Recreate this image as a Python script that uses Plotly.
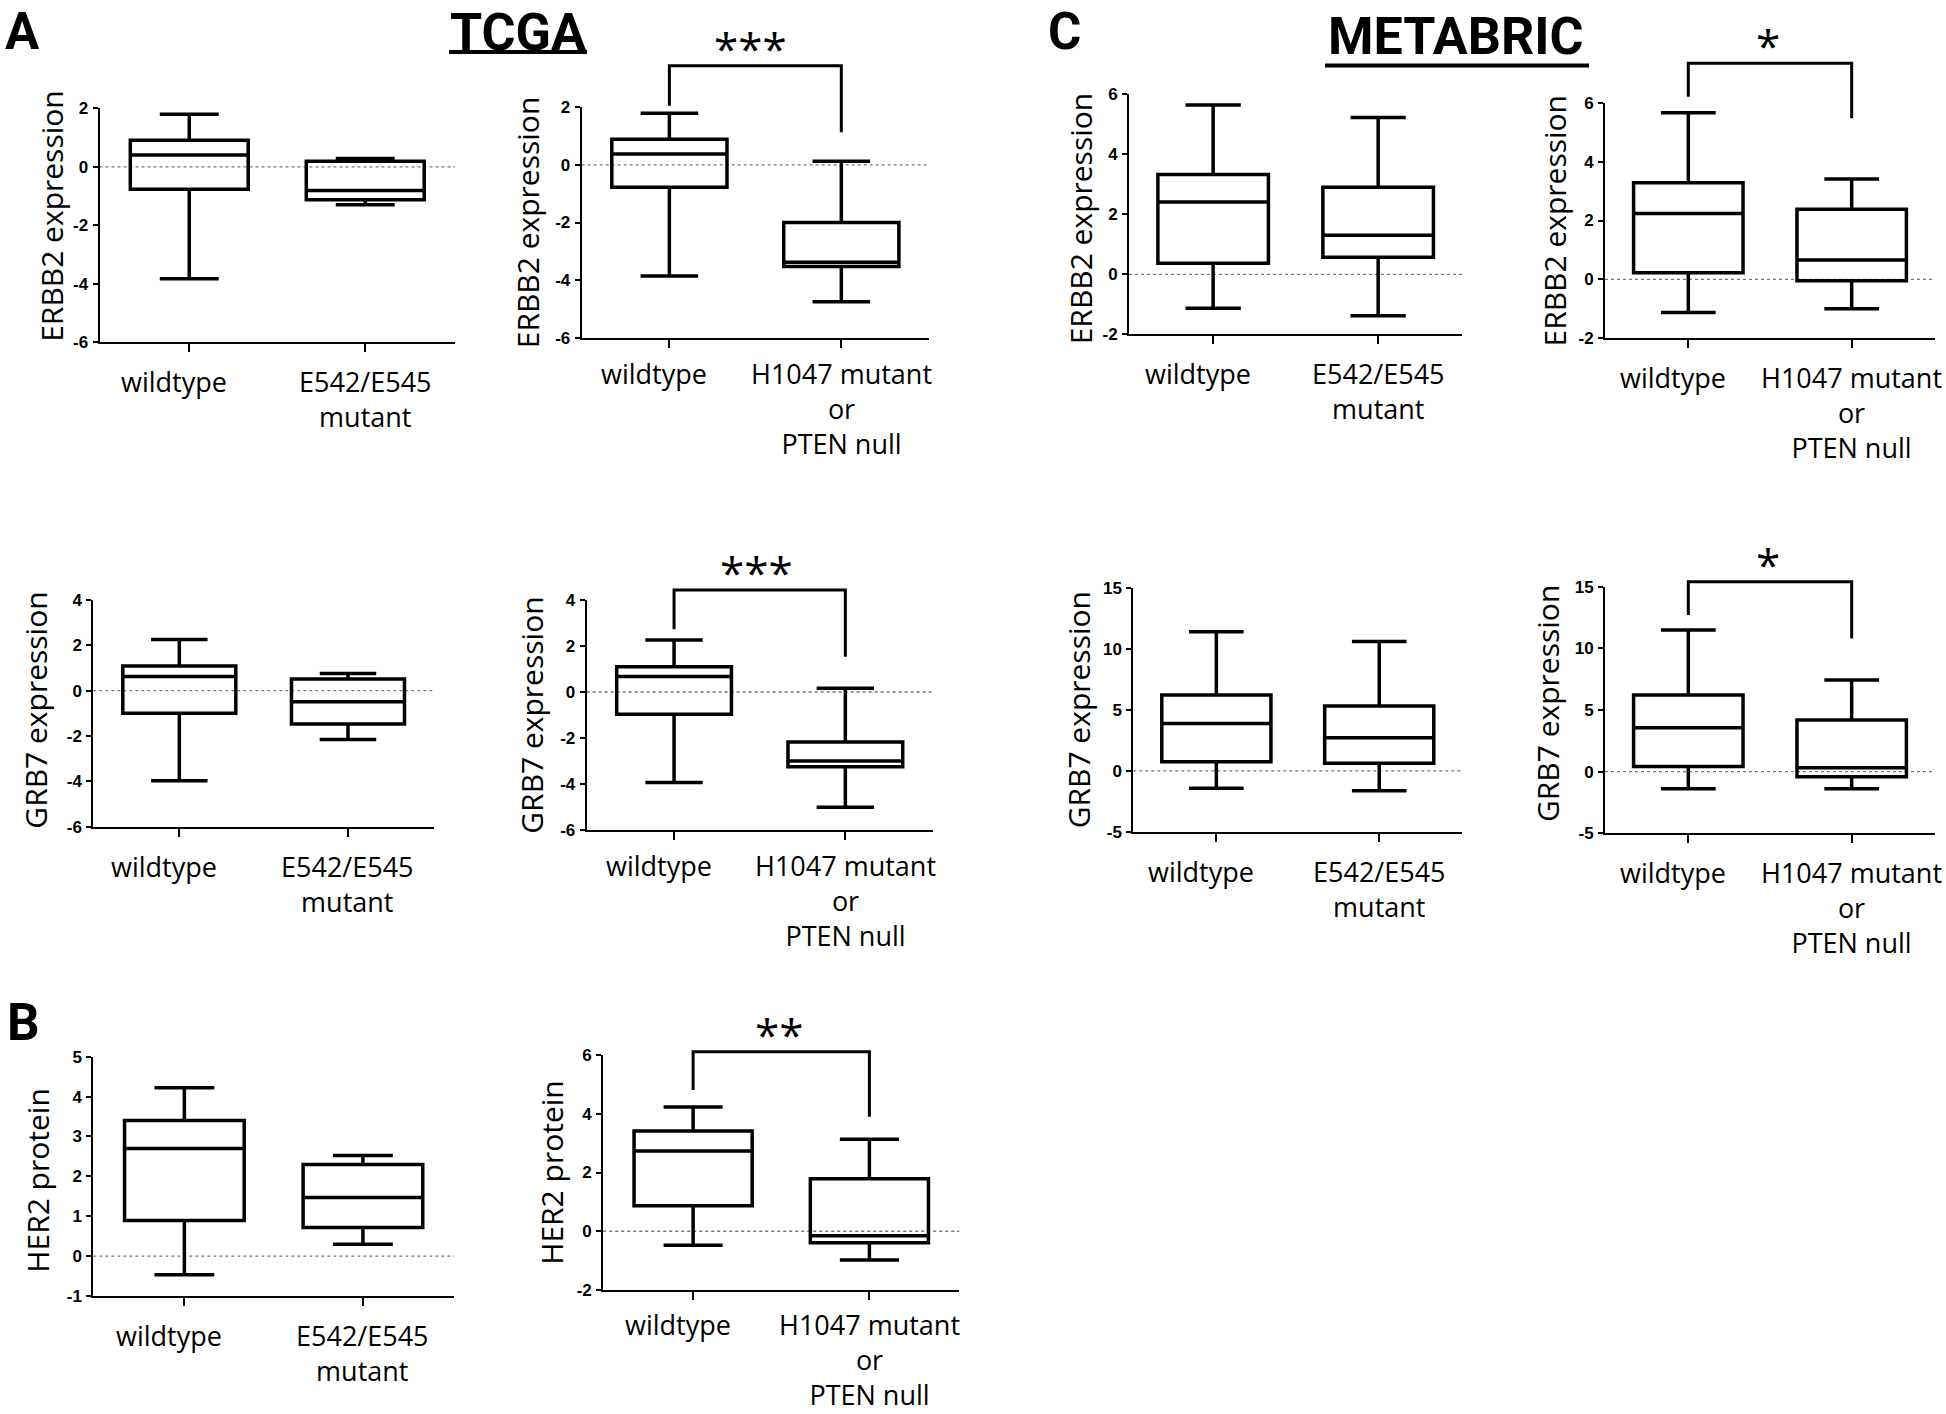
import plotly.graph_objects as go

W, H = 1946, 1414

# ---------------- data ----------------
CAT_E = ["wildtype", "E542/E545<br>mutant"]
CAT_H = ["wildtype", "H1047 mutant<br>or<br>PTEN null"]

# box statistics: [min, q1, median, q3, max]
A1_wt = [-3.83, -0.77, 0.40, 0.91, 1.80]
A1_mut = [-1.30, -1.13, -0.81, 0.19, 0.28]
A2_wt = [-3.86, -0.78, 0.38, 0.89, 1.79]
A2_mut = [-4.75, -3.53, -3.38, -2.00, 0.13]
A3_wt = [-3.97, -1.00, 0.62, 1.09, 2.26]
A3_mut = [-2.15, -1.47, -0.49, 0.51, 0.76]
A4_wt = [-3.94, -0.97, 0.67, 1.10, 2.26]
A4_mut = [-5.01, -3.25, -3.00, -2.17, 0.16]
B1_wt = [-0.47, 0.89, 2.70, 3.40, 4.22]
B1_mut = [0.30, 0.72, 1.47, 2.30, 2.52]
B2_wt = [-0.48, 0.87, 2.73, 3.41, 4.23]
B2_mut = [-0.98, -0.39, -0.15, 1.79, 3.13]
C1_wt = [-1.13, 0.37, 2.41, 3.33, 5.64]
C1_mut = [-1.38, 0.57, 1.30, 2.90, 5.23]
C2_wt = [-1.12, 0.23, 2.24, 3.28, 5.66]
C2_mut = [-1.00, -0.05, 0.66, 2.38, 3.41]
C3_wt = [-1.44, 0.75, 3.90, 6.23, 11.44]
C3_mut = [-1.63, 0.62, 2.73, 5.33, 10.62]
C4_wt = [-1.38, 0.41, 3.57, 6.22, 11.49]
C4_mut = [-1.38, -0.41, 0.32, 4.19, 7.43]

TICKS_A12 = [-6, -4, -2, 0, 2]
TICKS_A34 = [-6, -4, -2, 0, 2, 4]
TICKS_B1 = [-1, 0, 1, 2, 3, 4, 5]
TICKS_B2 = [-2, 0, 2, 4, 6]
TICKS_C12 = [-2, 0, 2, 4, 6]
TICKS_C34 = [-5, 0, 5, 10, 15]

# significance brackets: [left foot, top, right foot] (y values)
A2_sig = [2.05, 3.44, 1.13]
A4_sig = [2.73, 4.43, 1.53]
B2_sig = [4.81, 6.11, 3.90]
C2_sig = [6.20, 7.34, 5.47]
C4_sig = [12.70, 15.40, 10.80]

# ---------------- layout config ----------------
# box = (x_left_px, x_right_px, y_top_px, y_bottom_px)
panels = [
    dict(wt=A1_wt, mut=A1_mut, cats=CAT_E, yt="ERBB2 expression", ticks=TICKS_A12,
         box=(99.5, 455, 108.3, 342.3), toff=48, tdy=9, sig=None, star=None, ldy=0, sdx=0),
    dict(wt=A2_wt, mut=A2_mut, cats=CAT_H, yt="ERBB2 expression", ticks=TICKS_A12,
         box=(581.7, 929, 107.3, 337.7), toff=54, tdy=0, sig=A2_sig, star="***", ldy=4, sdx=-5),
    dict(wt=A3_wt, mut=A3_mut, cats=CAT_E, yt="GRB7 expression", ticks=TICKS_A34,
         box=(93.3, 434, 600, 826.7), toff=58, tdy=3, sig=None, star=None, ldy=0, sdx=0),
    dict(wt=A4_wt, mut=A4_mut, cats=CAT_H, yt="GRB7 expression", ticks=TICKS_A34,
         box=(586.7, 932.7, 600, 830), toff=56, tdy=0, sig=A4_sig, star="***", ldy=4, sdx=-3),
    dict(wt=B1_wt, mut=B1_mut, cats=CAT_E, yt="HER2 protein", ticks=TICKS_B1,
         box=(93.3, 454, 1056.7, 1296), toff=56, tdy=-4, sig=None, star=None, ldy=0, sdx=0),
    dict(wt=B2_wt, mut=B2_mut, cats=CAT_H, yt="HER2 protein", ticks=TICKS_B2,
         box=(603.2, 959.3, 1055, 1290), toff=52, tdy=0, sig=B2_sig, star="**", ldy=5, sdx=-2),
    dict(wt=C1_wt, mut=C1_mut, cats=CAT_E, yt="ERBB2 expression", ticks=TICKS_C12,
         box=(1129, 1462.3, 94.3, 334.3), toff=49, tdy=-4, sig=None, star=None, ldy=0, sdx=0),
    dict(wt=C2_wt, mut=C2_mut, cats=CAT_H, yt="ERBB2 expression", ticks=TICKS_C12,
         box=(1605, 1935, 102.7, 338.3), toff=51, tdy=0, sig=C2_sig, star="*", ldy=0, sdx=-2),
    dict(wt=C3_wt, mut=C3_mut, cats=CAT_E, yt="GRB7 expression", ticks=TICKS_C34,
         box=(1133.3, 1462.3, 588.3, 831.7), toff=55, tdy=0, sig=None, star=None, ldy=0, sdx=0),
    dict(wt=C4_wt, mut=C4_mut, cats=CAT_H, yt="GRB7 expression", ticks=TICKS_C34,
         box=(1605, 1935, 586.7, 833.3), toff=57, tdy=6, sig=C4_sig, star="*", ldy=0, sdx=-2),
]

XR = [-0.51, 1.51]
TICK_FONT = dict(family="Liberation Sans, Arial", size=17, color="black", weight="bold")
CAT_FONT = dict(family="Open Sans", size=27, color="black")
TITLE_FONT = dict(family="Open Sans", size=30, color="black")
CAT_XSHIFT = [-15, 0]

fig = go.Figure()
layout = dict(width=W, height=H, margin=dict(l=0, r=0, t=0, b=0), template="none",
              paper_bgcolor="white", plot_bgcolor="white", showlegend=False)
shapes, annots = [], []


def px2paper_x(px):
    return px / W


def px2paper_y(py):
    return 1 - py / H


for i, p in enumerate(panels):
    n = "" if i == 0 else str(i + 1)
    x0, x1, yt, yb = p["box"]
    ymin, ymax = p["ticks"][0], p["ticks"][-1]
    dx = [px2paper_x(x0), px2paper_x(x1)]
    dy = [px2paper_y(yb), px2paper_y(yt)]
    layout["xaxis" + n] = dict(
        domain=dx, anchor="y" + n, range=XR, tickmode="array", tickvals=[0, 1],
        showticklabels=False, showline=True, linecolor="black", linewidth=2,
        ticks="outside", ticklen=8, tickwidth=2, tickcolor="black",
        showgrid=False, zeroline=False)
    layout["yaxis" + n] = dict(
        domain=dy, anchor="x" + n, range=[ymin, ymax], tickmode="array",
        tickvals=p["ticks"], ticktext=[str(t) for t in p["ticks"]],
        showline=True, linecolor="black", linewidth=2, ticks="outside", ticklen=5,
        tickwidth=2, tickcolor="black", showgrid=False, zeroline=False,
        tickfont=TICK_FONT, ticklabelstandoff=1)
    stats = [p["wt"], p["mut"]]
    fig.add_trace(go.Box(
        x=[0, 1],
        lowerfence=[s[0] for s in stats], q1=[s[1] for s in stats],
        median=[s[2] for s in stats], q3=[s[3] for s in stats],
        upperfence=[s[4] for s in stats],
        width=0.67, whiskerwidth=0.5, boxpoints=False,
        fillcolor="rgba(0,0,0,0)", line=dict(color="black", width=3.5),
        xaxis="x" + n, yaxis="y" + n, hoverinfo="skip", showlegend=False))
    # dotted zero line
    shapes.append(dict(type="line", xref="x" + n + " domain", yref="y" + n,
                       x0=0, x1=1, y0=0, y1=0, layer="below",
                       line=dict(color="#777", width=1.3, dash="dot")))
    # category labels under the ticks
    for k, lab in enumerate(p["cats"]):
        annots.append(dict(text=lab, xref="x" + n, yref="y" + n + " domain",
                           x=k, y=0, xanchor="center", yanchor="top",
                           xshift=CAT_XSHIFT[k], yshift=-19 + p["ldy"],
                           showarrow=False, font=CAT_FONT))
    # y-axis title
    annots.append(dict(text=p["yt"], xref="x" + n + " domain", yref="y" + n + " domain",
                       x=0, y=0.5, xshift=-p["toff"], yshift=p["tdy"],
                       xanchor="center", yanchor="middle",
                       textangle=-90, showarrow=False, font=TITLE_FONT))
    # significance bracket
    if p["sig"] is not None:
        def mx(v):
            return dx[0] + (v - XR[0]) / (XR[1] - XR[0]) * (dx[1] - dx[0])

        def my(v):
            return dy[0] + (v - ymin) / (ymax - ymin) * (dy[1] - dy[0])
        l, t, r = p["sig"]
        path = f"M {mx(0)},{my(l)} L {mx(0)},{my(t)} L {mx(1)},{my(t)} L {mx(1)},{my(r)}"
        shapes.append(dict(type="path", xref="paper", yref="paper", path=path,
                           line=dict(color="black", width=3)))
        annots.append(dict(text=p["star"], xref="paper", yref="paper",
                           x=mx(0.5), y=my(t), xanchor="center", yanchor="middle",
                           xshift=p["sdx"], yshift=18, showarrow=False,
                           font=dict(family="Open Sans", size=44, color="black")))

# panel letters and dataset headers (top anchored, shift down in px)
HEAD = dict(family="Roboto", size=51, color="black", weight="bold")
for txt, cx, ytop in [("A", 22, 0), ("C", 1064, 0)]:
    annots.append(dict(text=txt, xref="paper", yref="paper", x=px2paper_x(cx),
                       y=1, yshift=-ytop, xanchor="center", yanchor="top",
                       showarrow=False, font=HEAD))
annots.append(dict(text="B", xref="paper", yref="paper", x=px2paper_x(23),
                   y=px2paper_y(1023), xanchor="center", yanchor="middle",
                   showarrow=False, font=HEAD))
for txt, cx, ytop, x0u, x1u, yu in [("TCGA", 517.5, 0, 449, 587, 52),
                                     ("METABRIC", 1455, 4, 1325, 1589, 65.5)]:
    annots.append(dict(text=txt, xref="paper", yref="paper", x=px2paper_x(cx),
                       y=1, yshift=-ytop, xanchor="center", yanchor="top",
                       showarrow=False,
                       font=dict(family="Roboto", size=52, color="black", weight="bold")))
    shapes.append(dict(type="line", xref="paper", yref="paper",
                       x0=px2paper_x(x0u), x1=px2paper_x(x1u),
                       y0=px2paper_y(yu), y1=px2paper_y(yu),
                       line=dict(color="black", width=4)))

layout["shapes"] = shapes
layout["annotations"] = annots
fig.update_layout(**layout)
fig.write_html("out.html", config={"displayModeBar": False},
               post_script="document.body.style.margin='0px';"
                           "document.body.style.overflow='hidden';")
